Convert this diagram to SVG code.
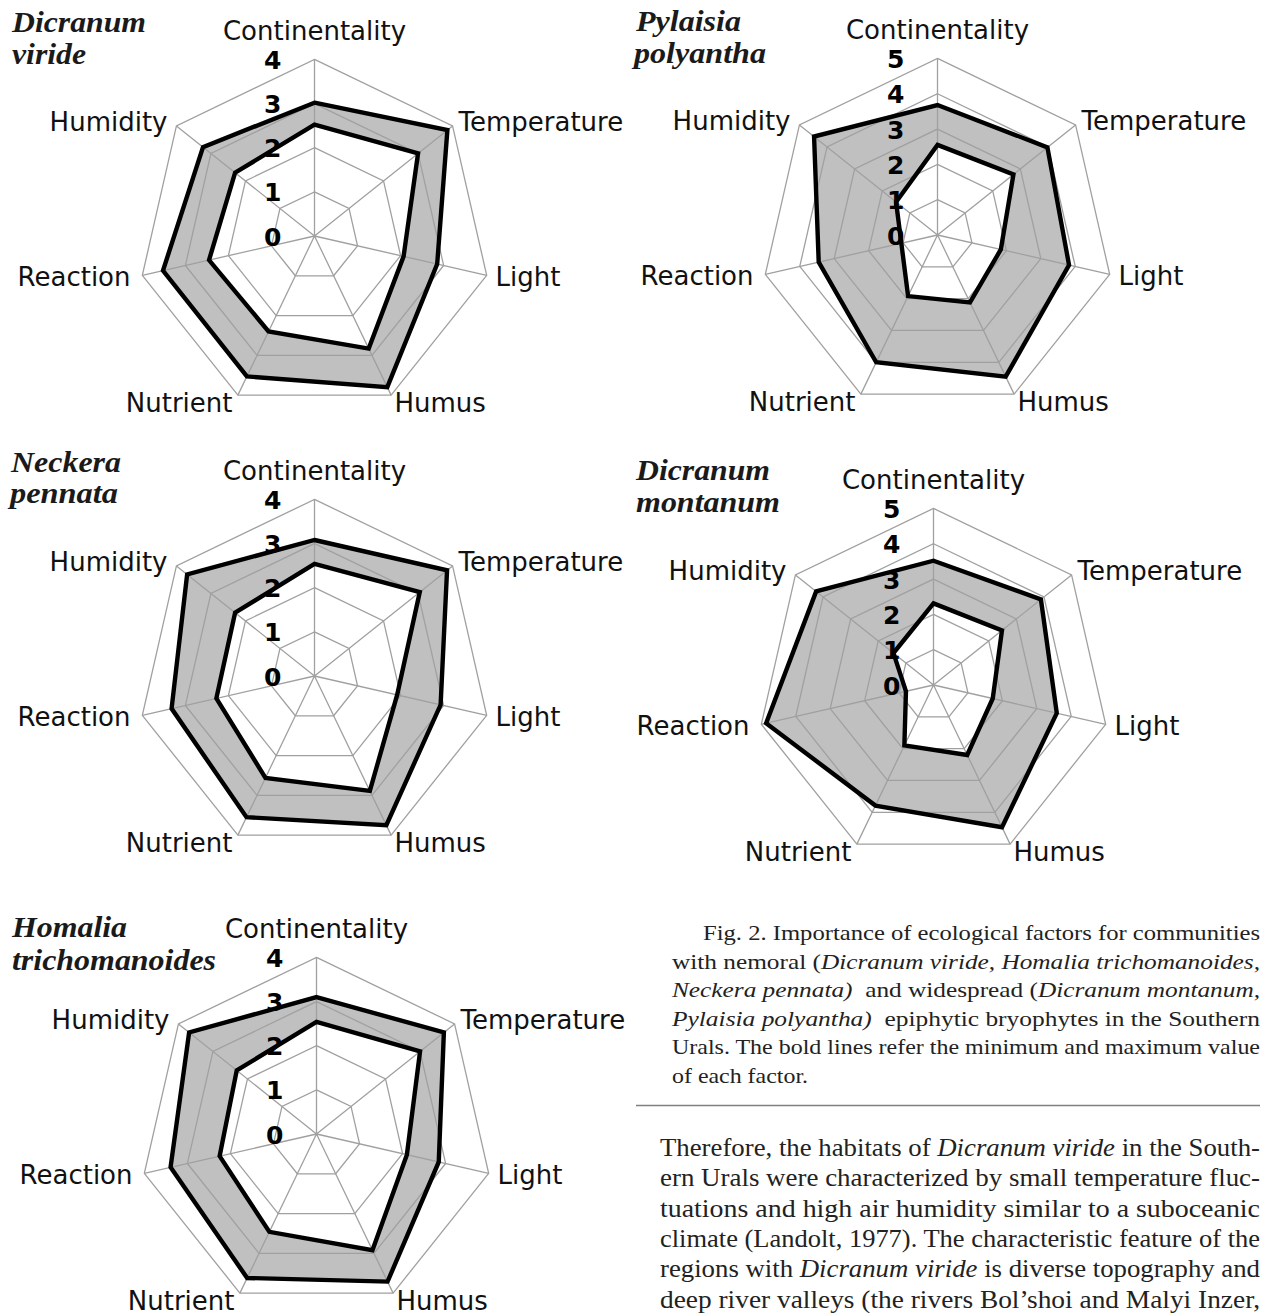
<svg xmlns="http://www.w3.org/2000/svg" xmlns:xlink="http://www.w3.org/1999/xlink" width="1271" height="1313" viewBox="0 0 1271 1313">
<style>
.lbl{font-family:"DejaVu Sans",sans-serif;font-size:26px;fill:#111}
.num{font-family:"DejaVu Sans",sans-serif;font-weight:bold;font-size:25px;fill:#000;text-anchor:end}
.ttl{font-family:"Liberation Serif",serif;font-weight:bold;font-style:italic;font-size:30px;fill:#1a1a1a}
.grid{fill:none;stroke:#a0a0a0;stroke-width:1.3}
.band{fill:#c0c0c0;stroke:none}
.hole{fill:#fff;stroke:none}
.bold{fill:none;stroke:#000;stroke-width:4.4;stroke-linejoin:miter}
.cap{font-family:"Liberation Serif",serif;font-size:21.5px;fill:#222}
.body{font-family:"Liberation Serif",serif;font-size:25.5px;fill:#222}
.it{font-style:italic}
</style>
<defs>
<polygon id="hp" vector-effect="non-scaling-stroke" points="0,-1 0.78183,-0.62349 0.97493,0.22252 0.43388,0.90097 -0.43388,0.90097 -0.97493,0.22252 -0.78183,-0.62349"/>
<path id="spokes" d="M0,0L0,-176.6M0,0L138.07,-110.11M0,0L172.17,39.3M0,0L76.62,159.11M0,0L-76.62,159.11M0,0L-172.17,39.3M0,0L-138.07,-110.11"/>
<g id="grid4" class="grid">
<use href="#hp" transform="scale(44.15)"/>
<use href="#hp" transform="scale(88.3)"/>
<use href="#hp" transform="scale(132.45)"/>
<use href="#hp" transform="scale(176.6)"/>
<use href="#spokes"/>
</g>
<g id="grid5" class="grid">
<use href="#hp" transform="scale(35.32)"/>
<use href="#hp" transform="scale(70.64)"/>
<use href="#hp" transform="scale(105.96)"/>
<use href="#hp" transform="scale(141.28)"/>
<use href="#hp" transform="scale(176.6)"/>
<use href="#spokes"/>
</g>
<g id="nums4" class="num">
<text x="-33" y="-167.1">4</text>
<text x="-33" y="-122.95">3</text>
<text x="-33" y="-78.8">2</text>
<text x="-33" y="-34.65">1</text>
<text x="-33" y="9.5">0</text>
</g>
<g id="nums5" class="num">
<text x="-33" y="-167.1">5</text>
<text x="-33" y="-131.8">4</text>
<text x="-33" y="-96.5">3</text>
<text x="-33" y="-61.1">2</text>
<text x="-33" y="-25.8">1</text>
<text x="-33" y="9.5">0</text>
</g>
<g id="axislabels" class="lbl">
<text x="0" y="-196" text-anchor="middle">Continentality</text>
<text x="144" y="-105">Temperature</text>
<text x="181" y="50">Light</text>
<text x="80" y="176">Humus</text>
<text x="-82" y="176" text-anchor="end">Nutrient</text>
<text x="-184" y="50" text-anchor="end">Reaction</text>
<text x="-147" y="-105" text-anchor="end">Humidity</text>
</g>
</defs>
<rect width="1271" height="1313" fill="#fff"/>

<g id="chart-dicranum-viride">
<g transform="translate(314.5,236)">
<polygon class="band" points="0,-133.3 132.89,-105.98 122.68,28 72.79,151.16 -67.62,140.42 -151.51,34.58 -111.49,-88.91"/>
<polygon class="hole" points="0,-111.3 103.55,-82.58 89.1,20.34 54.21,112.57 -45.97,95.47 -105.46,24.07 -79.39,-63.32"/>
<use href="#grid4"/>
<use href="#nums4"/>
<polygon class="bold" points="0,-133.3 132.89,-105.98 122.68,28 72.79,151.16 -67.62,140.42 -151.51,34.58 -111.49,-88.91"/>
<polygon class="bold" points="0,-111.3 103.55,-82.58 89.1,20.34 54.21,112.57 -45.97,95.47 -105.46,24.07 -79.39,-63.32"/>
<use href="#axislabels"/>
</g>
<text class="ttl" x="12" y="32" textLength="134" lengthAdjust="spacingAndGlyphs">Dicranum</text>
<text class="ttl" x="12" y="64" textLength="74" lengthAdjust="spacingAndGlyphs">viride</text>
</g>

<g id="chart-pylaisia-polyantha">
<g transform="translate(937.5,235)">
<polygon class="band" points="0,-130 109.9,-87.64 131.54,30.02 68.19,141.61 -61.3,127.29 -118.79,27.11 -123.43,-98.44"/>
<polygon class="hole" points="0,-90.1 75.94,-60.56 63.36,14.46 32.49,67.46 -29.42,61.09 -36.16,8.25 -41.42,-33.03"/>
<use href="#grid5"/>
<use href="#nums5"/>
<polygon class="bold" points="0,-130 109.9,-87.64 131.54,30.02 68.19,141.61 -61.3,127.29 -118.79,27.11 -123.43,-98.44"/>
<polygon class="bold" points="0,-90.1 75.94,-60.56 63.36,14.46 32.49,67.46 -29.42,61.09 -36.16,8.25 -41.42,-33.03"/>
<use href="#axislabels"/>
</g>
<text class="ttl" x="636" y="31" textLength="105" lengthAdjust="spacingAndGlyphs">Pylaisia</text>
<text class="ttl" x="634" y="63" textLength="132" lengthAdjust="spacingAndGlyphs">polyantha</text>
</g>

<g id="chart-neckera-pennata">
<g transform="translate(314.5,676)">
<polygon class="band" points="0,-136 132.55,-105.71 126.12,28.78 71.83,149.17 -68,141.21 -142.91,32.62 -127.37,-101.57"/>
<polygon class="hole" points="0,-112.1 105.28,-83.96 82.64,18.86 55.36,114.95 -49.04,101.83 -98.14,22.4 -79.39,-63.32"/>
<use href="#grid4"/>
<use href="#nums4"/>
<polygon class="bold" points="0,-136 132.55,-105.71 126.12,28.78 71.83,149.17 -68,141.21 -142.91,32.62 -127.37,-101.57"/>
<polygon class="bold" points="0,-112.1 105.28,-83.96 82.64,18.86 55.36,114.95 -49.04,101.83 -98.14,22.4 -79.39,-63.32"/>
<use href="#axislabels"/>
</g>
<text class="ttl" x="11" y="472" textLength="110" lengthAdjust="spacingAndGlyphs">Neckera</text>
<text class="ttl" x="10" y="503" textLength="108" lengthAdjust="spacingAndGlyphs">pennata</text>
</g>

<g id="chart-dicranum-montanum">
<g transform="translate(933.5,685)">
<polygon class="band" points="0,-124.3 107.42,-85.66 123.28,28.14 68.5,142.25 -58.08,120.6 -167.36,38.2 -117.36,-93.59"/>
<polygon class="hole" points="0,-81.6 68.48,-54.61 59.23,13.52 33.71,70.01 -29.12,60.46 -27.55,6.29 -40.04,-31.93"/>
<use href="#grid5"/>
<use href="#nums5"/>
<polygon class="bold" points="0,-124.3 107.42,-85.66 123.28,28.14 68.5,142.25 -58.08,120.6 -167.36,38.2 -117.36,-93.59"/>
<polygon class="bold" points="0,-81.6 68.48,-54.61 59.23,13.52 33.71,70.01 -29.12,60.46 -27.55,6.29 -40.04,-31.93"/>
<use href="#axislabels"/>
</g>
<text class="ttl" x="636" y="480" textLength="134" lengthAdjust="spacingAndGlyphs">Dicranum</text>
<text class="ttl" x="636" y="512" textLength="144" lengthAdjust="spacingAndGlyphs">montanum</text>
</g>

<g id="chart-homalia-trichomanoides">
<g transform="translate(316.5,1134)">
<polygon class="band" points="0,-136.9 127.37,-101.57 122.25,27.9 71.07,147.58 -69.34,143.99 -145.92,33.3 -127.37,-101.57"/>
<polygon class="hole" points="0,-112.1 103.55,-82.58 90.4,20.63 55.94,116.15 -47.12,97.86 -96.85,22.11 -79.74,-63.59"/>
<use href="#grid4"/>
<use href="#nums4"/>
<polygon class="bold" points="0,-136.9 127.37,-101.57 122.25,27.9 71.07,147.58 -69.34,143.99 -145.92,33.3 -127.37,-101.57"/>
<polygon class="bold" points="0,-112.1 103.55,-82.58 90.4,20.63 55.94,116.15 -47.12,97.86 -96.85,22.11 -79.74,-63.59"/>
<use href="#axislabels"/>
</g>
<text class="ttl" x="12" y="937" textLength="115" lengthAdjust="spacingAndGlyphs">Homalia</text>
<text class="ttl" x="12" y="970" textLength="204" lengthAdjust="spacingAndGlyphs">trichomanoides</text>
</g>

<g id="connectors"></g>

<g id="caption" class="cap">
<text x="703" y="940" textLength="557" lengthAdjust="spacingAndGlyphs">Fig. 2. Importance of ecological factors for communities</text>
<text x="672" y="968.6" textLength="588" lengthAdjust="spacingAndGlyphs">with nemoral (<tspan class="it">Dicranum viride, Homalia trichomanoides,</tspan></text>
<text x="672" y="997.2" textLength="588" lengthAdjust="spacingAndGlyphs"><tspan class="it">Neckera pennata)</tspan>&#160; and widespread (<tspan class="it">Dicranum montanum,</tspan></text>
<text x="672" y="1025.8" textLength="588" lengthAdjust="spacingAndGlyphs"><tspan class="it">Pylaisia polyantha)</tspan>&#160; epiphytic bryophytes in the Southern</text>
<text x="672" y="1054.4" textLength="588" lengthAdjust="spacingAndGlyphs">Urals. The bold lines refer the minimum and maximum value</text>
<text x="672" y="1083" textLength="136" lengthAdjust="spacingAndGlyphs">of each factor.</text>
</g>
<line id="rule" x1="636" y1="1105.5" x2="1260" y2="1105.5" stroke="#808080" stroke-width="1.6"/>
<g id="bodytext" class="body">
<text x="660" y="1156" textLength="600" lengthAdjust="spacingAndGlyphs">Therefore, the habitats of <tspan class="it">Dicranum viride</tspan> in the South-</text>
<text x="660" y="1186.3" textLength="600" lengthAdjust="spacingAndGlyphs">ern Urals were characterized by small temperature fluc-</text>
<text x="660" y="1216.6" textLength="600" lengthAdjust="spacingAndGlyphs">tuations and high air humidity similar to a suboceanic</text>
<text x="660" y="1246.9" textLength="600" lengthAdjust="spacingAndGlyphs">climate (Landolt, 1977). The characteristic feature of the</text>
<text x="660" y="1277.2" textLength="600" lengthAdjust="spacingAndGlyphs">regions with <tspan class="it">Dicranum viride</tspan> is diverse topography and</text>
<text x="660" y="1308" textLength="600" lengthAdjust="spacingAndGlyphs">deep river valleys (the rivers Bol’shoi and Malyi Inzer,</text>
</g>
</svg>
